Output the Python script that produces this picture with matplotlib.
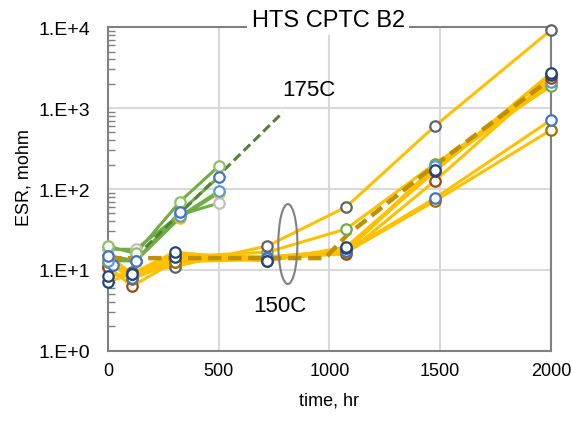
import matplotlib
matplotlib.use('Agg')
import matplotlib.pyplot as plt
from matplotlib.patches import Ellipse
from matplotlib.ticker import FuncFormatter, LogLocator, NullFormatter
import numpy as np

plt.rcParams['font.family'] = ['Liberation Sans', 'DejaVu Sans']

# 175C group, times in hr
t175 = [0, 125, 325, 500]
g175 = {
    'g5': [14, 13, 44, 90],
    'g4': [18, 18, 48, 67],
    'g1': [19.5, 16, 70, 192],
    'g3': [13, 12.9, 46, 94],
    'g2': [15, 13, 52, 141],
}
c175 = {'g1': '#8CC168', 'g2': '#4472C4', 'g3': '#5B9BD5', 'g4': '#BFBFBF', 'g5': '#FFC000'}

# 150C group
t150 = [0, 108, 300, 720, 1075, 1476, 2000]
t150b = [24, 108, 300, 720, 1075, 1476, 2000]
y150 = {
    'y9': [13, 8.5, 13.5, 14, 17, 180, 1950],
    'y2': [12.5, 8.0, 14.5, 16.6, 32, 205, 1870],
    'y8': [15.0, 9.0, 15.0, 14.5, 17.5, 190, 2100],
    'y1': [11, 9.5, 11.0, 19.8, 60, 600, 9200],
    'y4': [11.0, 6.3, 12.6, 14.0, 15.8, 126, 2350],
    'y6': [12.6, 7.7, 12.6, 13.5, 16.5, 71, 535],
    'y5': [11.5, 8.0, 15.5, 14.0, 17.0, 77, 711],
    'y7': [7.1, 9.0, 14.5, 13.0, 18.5, 165, 2600],
    'y3': [8.4, 9.0, 16.6, 12.9, 19.2, 172, 2700],
}
c150 = {'y1': '#636363', 'y2': '#70AD47', 'y3': '#264478', 'y4': '#9E480E', 'y5': '#4472C4',
        'y6': '#997300', 'y7': '#264478', 'y8': '#5B9BD5', 'y9': '#FFC000'}
start24 = ['y5']

# trend lines
tr175_t = [125, 790]
tr175_v = [14.5, 890]
tr150_t = [0, 980, 1080, 1480, 2000]
tr150_v = [14, 14, 27, 200, 2300]

fig = plt.figure(figsize=(5.72, 4.27), dpi=100)
ax = fig.add_axes([0.189, 0.176, 0.774, 0.758])

for k, v in y150.items():
    tt = t150b if k in start24 else t150
    ax.plot(tt, v, color='#FFC000', lw=2.2, zorder=2)
for k, v in g175.items():
    ax.plot(t175, v, color='#70AD47', lw=2.2, zorder=2.2)

ax.plot(tr150_t, tr150_v, color='#BF9000', lw=3.2, ls=(0, (3, 1.5)), zorder=3)
ax.plot(tr175_t, tr175_v, color='#548235', lw=2.2, ls=(0, (3, 1.5)), zorder=3)

for k, v in y150.items():
    tt = t150b if k in start24 else t150
    ax.plot(tt, v, ls='none', marker='o', ms=7.5, mfc='white', mec=c150[k], mew=1.6,
            zorder=4, clip_on=False)
for k, v in g175.items():
    ax.plot(t175, v, ls='none', marker='o', ms=7.5, mfc='white', mec=c175[k], mew=1.6,
            zorder=4, clip_on=False)

ax.set_yscale('log')
ax.set_xlim(0, 2000)
ax.set_ylim(1, 10000)
ax.set_xticks([0, 500, 1000, 1500, 2000])
ax.yaxis.set_major_locator(LogLocator(base=10, numticks=10))
ax.yaxis.set_minor_locator(LogLocator(base=10, subs=np.arange(2, 10), numticks=10))
ax.yaxis.set_major_formatter(FuncFormatter(lambda v, p: '1.E+%d' % int(round(np.log10(v)))))
ax.yaxis.set_minor_formatter(NullFormatter())
ax.tick_params(axis='x', which='major', length=0, labelsize=13, pad=8)
ax.tick_params(axis='y', which='major', length=0, labelsize=14, pad=13)
ax.tick_params(axis='y', which='minor', direction='in', length=5, width=1, color='#808080')
ax.grid(True, which='major', color='#D9D9D9', lw=1.5)
ax.set_axisbelow(True)
for s in ax.spines.values():
    s.set_color('#808080')
    s.set_linewidth(1.5)

ax.set_xlabel('time, hr', fontsize=13)
ax.set_ylabel('ESR, mohm', fontsize=13)
ax.xaxis.set_label_coords(0.5, -0.125)
ax.yaxis.set_label_coords(-0.17, 0.537)

ax.text(0.497, 1.022, 'HTS CPTC B2', transform=ax.transAxes, ha='center', va='center',
        fontsize=17, zorder=10, clip_on=False,
        bbox=dict(facecolor='white', edgecolor='none', pad=3))
ax.text(0.454, 0.806, '175C', transform=ax.transAxes, ha='center', va='center', fontsize=16)
ax.text(0.388, 0.139, '150C', transform=ax.transAxes, ha='center', va='center', fontsize=16)
ax.add_patch(Ellipse((0.406, 0.330), 0.043, 0.247, transform=ax.transAxes,
                     fill=False, edgecolor='#808080', lw=1.5, zorder=5))

fig.savefig('out.png', dpi=100)
